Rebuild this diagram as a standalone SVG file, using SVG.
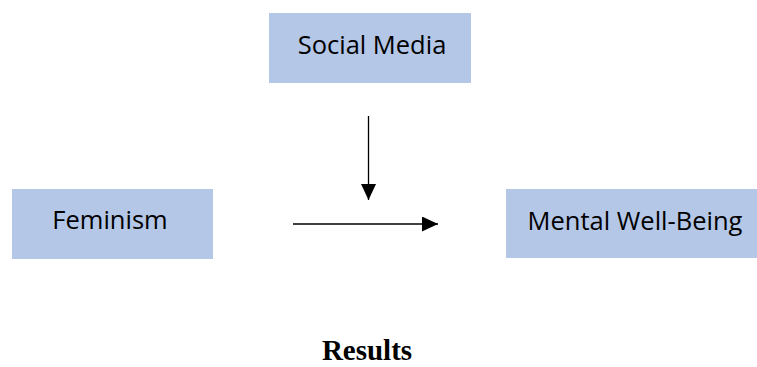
<svg xmlns="http://www.w3.org/2000/svg" width="757" height="367" viewBox="0 0 757 367">
<style>
.box{fill:#b4c7e7;}
.lbl{font-family:"Open Sans","Noto Sans",sans-serif;font-size:25.5px;fill:#000;text-anchor:middle;}
.conn{stroke:#000;stroke-width:1.3;fill:none;}
.title{font-family:"Liberation Serif",serif;font-weight:bold;font-size:29px;fill:#000;text-anchor:middle;}
</style>
<defs>
<marker id="ah" markerWidth="16" markerHeight="15" refX="16" refY="7.5" orient="auto" markerUnits="userSpaceOnUse">
<path d="M0,0 L16,7.5 L0,15 Z" fill="#000"/>
</marker>
</defs>
<g id="social-media"><rect class="box" x="269" y="13" width="202" height="70"/><text class="lbl" x="372" y="54">Social Media</text></g>
<g id="feminism"><rect class="box" x="12" y="189" width="201" height="70"/><text class="lbl" x="110" y="229">Feminism</text></g>
<g id="mental-well-being"><rect class="box" x="506" y="189" width="251" height="69"/><text class="lbl" x="635" y="230">Mental Well-Being</text></g>
<g id="connectors">
<line class="conn" x1="368.5" y1="116" x2="368.5" y2="200" marker-end="url(#ah)"/>
<line class="conn" x1="293" y1="224" x2="438" y2="224" marker-end="url(#ah)"/>
</g>
<text class="title" x="367" y="360">Results</text>
</svg>
